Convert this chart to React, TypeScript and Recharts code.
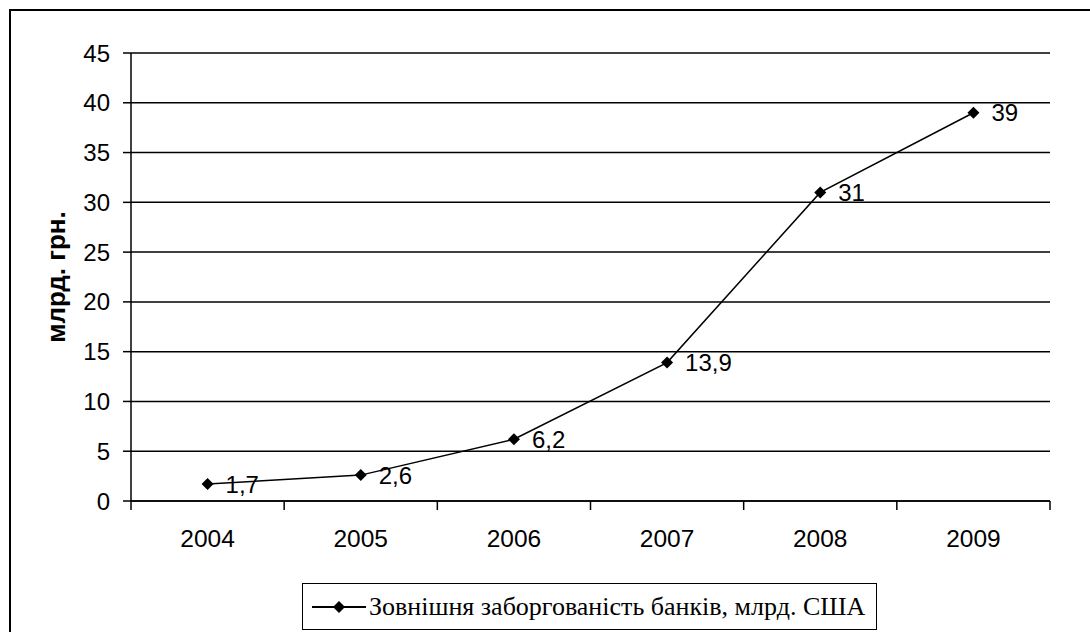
import React from 'react';
import { LineChart, Line, XAxis, YAxis, CartesianGrid, Legend, LabelList } from 'recharts';

const years = ['2004', '2005', '2006', '2007', '2008', '2009'];
const debt = [1.7, 2.6, 6.2, 13.9, 31, 39];
const yTicks = [0, 5, 10, 15, 20, 25, 30, 35, 40, 45];
const seriesName = 'Зовнішня заборгованість банків, млрд. США';
const yTitle = 'млрд. грн.';

const data = years.map((year, i) => ({ year, debt: debt[i] }));

const ARIAL = '"Liberation Sans", Arial, sans-serif';
const TIMES = '"Liberation Serif", "Times New Roman", serif';
const X_TICK_SIZE = 9;
const X_TICK_MARGIN = 20;

const Diamond = (props: any) => {
  const { cx, cy } = props;
  if (cx == null || cy == null) return null;
  const r = 6;
  return <polygon points={`${cx},${cy - r} ${cx + r},${cy} ${cx},${cy + r} ${cx - r},${cy}`} fill="#000" stroke="none" />;
};

const XTick = (props: any) => {
  const { x, y, payload, index, visibleTicksCount } = props;
  const axisY = y - X_TICK_SIZE - X_TICK_MARGIN;
  const off = payload && payload.offset != null ? payload.offset : 0;
  const isLast = index === (visibleTicksCount ?? years.length) - 1;
  return (
    <g>
      <line x1={x - off} x2={x - off} y1={axisY} y2={axisY + X_TICK_SIZE} stroke="#000" strokeWidth={1.5} />
      {isLast && (
        <line x1={x + off} x2={x + off} y1={axisY} y2={axisY + X_TICK_SIZE} stroke="#000" strokeWidth={1.5} />
      )}
      <text x={x} y={y} dy="0.71em" textAnchor="middle" fill="#000" fontSize={24.5} fontFamily={ARIAL}>
        {payload.value}
      </text>
    </g>
  );
};

const YTitle = (props: any) => {
  const vb = props.viewBox || {};
  const cx = (vb.x ?? 0) + 65;
  const cy = (vb.y ?? 0) + (vb.height ?? 0) / 2;
  return (
    <text
      x={cx}
      y={cy}
      transform={`rotate(-90, ${cx}, ${cy})`}
      textAnchor="middle"
      fontSize={26}
      fontWeight="bold"
      fontFamily={ARIAL}
      fill="#000"
    >
      {yTitle}
    </text>
  );
};

const LegendBox = (props: any) => {
  const p = props.payload && props.payload[0];
  const label = p ? p.value : seriesName;
  return (
    <div
      style={{
        boxSizing: 'border-box',
        width: 575,
        height: 47,
        border: '1.5px solid #000',
        background: '#fff',
        display: 'flex',
        alignItems: 'center',
        fontFamily: TIMES,
        fontSize: 26,
        color: '#000',
        whiteSpace: 'nowrap',
      }}
    >
      <svg width={66} height={20} style={{ flex: 'none' }}>
        <line x1={9} x2={63} y1={10} y2={10} stroke="#000" strokeWidth={2} />
        <polygon points="36,4 42,10 36,16 30,10" fill="#000" />
      </svg>
      <span>{label}</span>
    </div>
  );
};

export default function App() {
  return (
    <div style={{ position: 'absolute', left: 0, top: 0, width: 1090, height: 632, overflow: 'hidden', background: '#fff' }}>
      <div
        style={{
          position: 'absolute',
          left: 9,
          top: 9,
          width: 1300,
          height: 900,
          border: '2px solid #000',
        }}
      />
      <div style={{ position: 'absolute', left: 0, top: 0 }}>
        <LineChart width={1090} height={632} data={data} margin={{ top: 53, right: 40, bottom: 101, left: 0 }}>
          <CartesianGrid vertical={false} stroke="#000" strokeWidth={1.5} />
          <XAxis
            dataKey="year"
            scale="band"
            height={30}
            tickLine={false}
            tickSize={X_TICK_SIZE}
            tickMargin={X_TICK_MARGIN}
            axisLine={{ stroke: '#000', strokeWidth: 1.5 }}
            tick={<XTick />}
            interval={0}
          />
          <YAxis
            width={131}
            domain={[0, 45]}
            ticks={yTicks}
            interval={0}
            tickSize={8}
            tickMargin={13}
            axisLine={{ stroke: '#000', strokeWidth: 1.5 }}
            tickLine={{ stroke: '#000', strokeWidth: 1.5 }}
            tick={{ fill: '#000', fontSize: 24, fontFamily: ARIAL }}
            label={{ content: <YTitle /> }}
          />
          <Legend
            verticalAlign="middle"
            align="center"
            layout="horizontal"
            content={<LegendBox />}
            wrapperStyle={{ left: 302, top: 583, width: 575, height: 47 }}
          />
          <Line
            type="linear"
            dataKey="debt"
            name={seriesName}
            stroke="#000"
            strokeWidth={1.5}
            dot={<Diamond />}
            activeDot={false}
            isAnimationActive={false}
          >
            <LabelList
              dataKey="debt"
              position="right"
              offset={18}
              fill="#000"
              fontSize={24}
              fontFamily={ARIAL}
              formatter={(v: any) => String(v).replace('.', ',')}
            />
          </Line>
        </LineChart>
      </div>
    </div>
  );
}
